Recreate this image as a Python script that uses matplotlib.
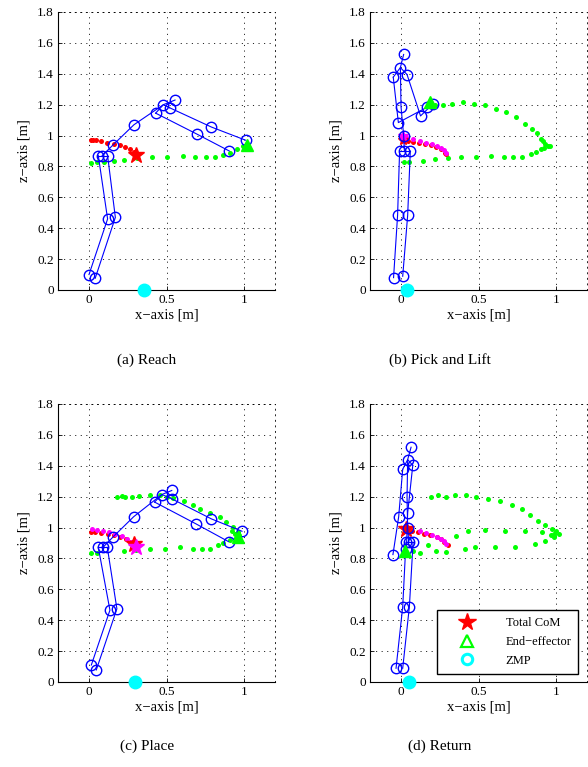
import numpy as np
import matplotlib
matplotlib.use("Agg")
from matplotlib import pyplot as plt
from matplotlib.lines import Line2D

plt.rcParams['font.family'] = ['Liberation Serif', 'DejaVu Serif']
plt.rcParams['lines.scale_dashes'] = False

# joint order: foot1, foot2, knee1, knee2, hip1, hip_mid, hip2, waist, chest,
# neck, head, shoulder1, shoulder2, elbow1, elbow2, hand1, hand2
chains = [[0, 2, 4], [1, 3, 6], [4, 5, 6], [5, 7, 8, 9, 10],
          [11, 9, 12], [11, 13, 15], [12, 14, 16]]

xticks = [0, 0.5, 1]
xtick_labels = ['0', '0.5', '1']
yticks = [0, 0.2, 0.4, 0.6, 0.8, 1.0, 1.2, 1.4, 1.6, 1.8]
ytick_labels = ['0', '0.2', '0.4', '0.6', '0.8', '1', '1.2', '1.4', '1.6', '1.8']
captions = ['(a) Reach', '(b) Pick and Lift', '(c) Place', '(d) Return']

# ---- (a) Reach
reach_body_x = [0.00, 0.04, 0.12, 0.17, 0.06, 0.085, 0.12, 0.156, 0.29, 0.48, 0.555,
                0.43, 0.52, 0.695, 0.79, 0.905, 1.01]
reach_body_z = [0.10, 0.076, 0.46, 0.47, 0.87, 0.87, 0.87, 0.94, 1.07, 1.20, 1.23,
                1.145, 1.18, 1.01, 1.055, 0.90, 0.97]
reach_ee_x = [0.01, 0.053, 0.096, 0.16, 0.224, 0.31, 0.406, 0.502, 0.605, 0.684, 0.754,
              0.812, 0.865, 0.908, 0.955, 0.994]
reach_ee_z = [0.825, 0.827, 0.827, 0.834, 0.842, 0.857, 0.86, 0.86, 0.868, 0.86, 0.86,
              0.86, 0.875, 0.89, 0.91, 0.93]
reach_com_x = [0.01, 0.025, 0.043, 0.075, 0.118, 0.16, 0.2, 0.235, 0.267, 0.29]
reach_com_z = [0.972, 0.974, 0.972, 0.965, 0.955, 0.946, 0.94, 0.929, 0.916, 0.896]
reach_upper_x = []
reach_upper_z = []
reach_star = (0.30, 0.875)
reach_upper_star = None
reach_tri = (1.02, 0.94)
reach_zmp = 0.357

# ---- (b) Pick and Lift
pick_body_x = [-0.048, 0.011, -0.022, 0.043, -0.009, 0.022, 0.06, 0.017, 0.0, -0.004, 0.017,
               -0.05, 0.039, -0.017, 0.126, 0.169, 0.206]
pick_body_z = [0.08, 0.089, 0.484, 0.484, 0.90, 0.90, 0.90, 1.0, 1.188, 1.44, 1.525,
               1.378, 1.395, 1.084, 1.127, 1.184, 1.205]
pick_ee_x = [0.02, 0.05, 0.14, 0.22, 0.30, 0.39, 0.487, 0.58, 0.665, 0.725, 0.78, 0.84,
             0.87, 0.90, 0.92, 0.95, 0.96, 0.93, 0.913, 0.90, 0.88, 0.846, 0.80, 0.745,
             0.68, 0.615, 0.54, 0.47, 0.40, 0.33, 0.27, 0.22]
pick_ee_z = [0.83, 0.83, 0.835, 0.848, 0.856, 0.864, 0.864, 0.87, 0.862, 0.864, 0.864, 0.88,
             0.894, 0.91, 0.92, 0.93, 0.935, 0.946, 0.963, 0.98, 1.015, 1.045, 1.078, 1.12,
             1.15, 1.175, 1.20, 1.206, 1.216, 1.206, 1.20, 1.195]
pick_com_x = [0.011, 0.043, 0.076, 0.113, 0.152, 0.195, 0.227, 0.26, 0.286, 0.29]
pick_com_z = [0.972, 0.965, 0.961, 0.955, 0.946, 0.937, 0.929, 0.911, 0.89, 0.88]
pick_upper_x = [0.0, 0.04, 0.08, 0.12, 0.16, 0.2, 0.235, 0.26, 0.28, 0.29]
pick_upper_z = [1.0, 0.985, 0.975, 0.967, 0.955, 0.945, 0.935, 0.92, 0.905, 0.89]
pick_star = (0.01, 0.972)
pick_upper_star = (0.01, 1.0)
pick_tri = (0.19, 1.22)
pick_zmp = 0.037

# ---- (c) Place
place_body_x = [0.015, 0.047, 0.135, 0.18, 0.06, 0.09, 0.118, 0.156, 0.288, 0.47, 0.534,
                0.423, 0.534, 0.69, 0.79, 0.90, 0.987]
place_body_z = [0.11, 0.078, 0.465, 0.474, 0.872, 0.872, 0.872, 0.94, 1.07, 1.214, 1.24,
                1.165, 1.186, 1.024, 1.056, 0.909, 0.976]
place_ee_x = [0.01, 0.053, 0.224, 0.30, 0.395, 0.49, 0.588, 0.673, 0.726, 0.78, 0.833,
              0.865, 0.908, 0.18, 0.214, 0.235, 0.278, 0.32, 0.395, 0.46, 0.502, 0.545,
              0.61, 0.673, 0.716, 0.78, 0.844, 0.887, 0.93, 0.96, 0.94, 0.97, 0.92, 0.95]
place_ee_z = [0.833, 0.833, 0.846, 0.855, 0.864, 0.864, 0.872, 0.864, 0.864, 0.864, 0.885,
              0.898, 0.92, 1.20, 1.203, 1.197, 1.20, 1.203, 1.212, 1.208, 1.197, 1.19,
              1.175, 1.143, 1.121, 1.093, 1.067, 1.035, 1.002, 0.97, 0.96, 0.95, 0.98, 0.935]
place_com_x = [0.01, 0.04, 0.08, 0.12, 0.16, 0.2, 0.24, 0.27, 0.29]
place_com_z = [0.97, 0.97, 0.965, 0.96, 0.95, 0.94, 0.925, 0.905, 0.89]
place_upper_x = [0.02, 0.05, 0.09, 0.13, 0.17, 0.21, 0.245, 0.27, 0.29]
place_upper_z = [0.99, 0.985, 0.98, 0.97, 0.96, 0.945, 0.925, 0.905, 0.89]
place_star = (0.29, 0.895)
place_upper_star = (0.30, 0.875)
place_tri = (0.96, 0.94)
place_zmp = 0.295

# ---- (d) Return
return_body_x = [-0.032, 0.011, 0.011, 0.054, 0.032, 0.05, 0.078, 0.043, 0.039, 0.043, 0.065,
                 0.011, 0.076, -0.015, 0.043, -0.052, 0.035]
return_body_z = [0.089, 0.089, 0.487, 0.487, 0.905, 0.905, 0.905, 1.0, 1.197, 1.44, 1.52,
                 1.377, 1.403, 1.07, 1.095, 0.825, 0.86]
return_ee_x = [0.195, 0.238, 0.292, 0.346, 0.422, 0.487, 0.563, 0.639, 0.714, 0.779, 0.833,
               0.887, 0.931, 0.974, 1.0, 1.017, 0.985, 0.91, 0.80, 0.67, 0.54, 0.43, 0.357,
               0.173, 0.076, 0.02, 0.12, 0.227, 0.292, 0.411, 0.476, 0.606, 0.736, 0.866,
               0.931, 0.985, 0.97, 0.99]
return_ee_z = [1.201, 1.208, 1.201, 1.208, 1.214, 1.201, 1.186, 1.171, 1.149, 1.121, 1.082,
               1.045, 1.019, 0.991, 0.975, 0.959, 0.96, 0.97, 0.976, 0.98, 0.985, 0.98, 0.948,
               0.89, 0.85, 0.829, 0.835, 0.85, 0.84, 0.861, 0.872, 0.872, 0.872, 0.894,
               0.916, 0.937, 0.95, 0.945]
return_com_x = [0.03, 0.07, 0.11, 0.15, 0.19, 0.23, 0.26, 0.28, 0.30]
return_com_z = [0.98, 0.975, 0.97, 0.96, 0.95, 0.94, 0.925, 0.905, 0.885]
return_upper_x = [0.12, 0.16, 0.2, 0.23, 0.26, 0.28, 0.29]
return_upper_z = [0.975, 0.965, 0.955, 0.94, 0.925, 0.91, 0.895]
return_star = (0.03, 0.99)
return_upper_star = None
return_tri = (0.026, 0.845)
return_zmp = 0.05

panels = [
    (reach_body_x, reach_body_z, reach_ee_x, reach_ee_z, reach_com_x, reach_com_z,
     reach_upper_x, reach_upper_z, reach_star, reach_upper_star, reach_tri, reach_zmp),
    (pick_body_x, pick_body_z, pick_ee_x, pick_ee_z, pick_com_x, pick_com_z,
     pick_upper_x, pick_upper_z, pick_star, pick_upper_star, pick_tri, pick_zmp),
    (place_body_x, place_body_z, place_ee_x, place_ee_z, place_com_x, place_com_z,
     place_upper_x, place_upper_z, place_star, place_upper_star, place_tri, place_zmp),
    (return_body_x, return_body_z, return_ee_x, return_ee_z, return_com_x, return_com_z,
     return_upper_x, return_upper_z, return_star, return_upper_star, return_tri, return_zmp),
]

# axes positions in pixels (left, top), then turned into figure fraction
W, H = 588, 767
boxes = [(58, 12), (370, 12), (58, 404), (370, 404)]
caption_pos = [(147, 360), (440, 360), (147, 746), (440, 746)]
ax_w, ax_h = 217, 278

fig = plt.figure(figsize=(W / 100, H / 100), dpi=100)
dot = (0, (0.8, 3.2))

for i, p in enumerate(panels):
    (bx, bz, ex, ez, cx, cz, ux, uz, star, ustar, tri, zmp) = p
    left, top = boxes[i]
    ax = fig.add_axes([left / W, 1 - (top + ax_h) / H, ax_w / W, ax_h / H])

    ax.plot(ex, ez, 'o', color=(0, 1, 0), ms=3.6, mec='none')
    ax.plot(cx, cz, 'o', color='red', ms=3.6, mec='none')
    if ux:
        ax.plot(ux, uz, 'o', color='magenta', ms=3.6, mec='none')
    ax.plot(star[0], star[1], '*', color='red', ms=12 if i != 1 else 8, mec='red')
    if ustar is not None:
        ax.plot(ustar[0], ustar[1], '*', color='magenta', ms=12 if i != 1 else 8, mec='magenta')

    bx = np.array(bx)
    bz = np.array(bz)
    for ch in chains:
        ax.plot(bx[ch], bz[ch], '-', color='blue', lw=0.8)
    ax.plot(bx, bz, 'o', mfc='none', mec='blue', ms=7.5, mew=1.0)

    ax.plot(tri[0], tri[1], '^', color=(0, 1, 0), ms=8, mec=(0, 1, 0))
    ax.plot(zmp, 0, 'o', color=(0, 1, 1), ms=9, mec=(0, 1, 1), clip_on=False, zorder=5)

    ax.set_xlim(-0.2, 1.2)
    ax.set_ylim(0, 1.8)
    ax.set_xticks(xticks)
    ax.set_xticklabels(xtick_labels)
    ax.set_yticks(yticks)
    ax.set_yticklabels(ytick_labels)
    ax.tick_params(direction='in', length=3, width=0.6, labelsize=9.5, pad=3)
    ax.grid(True, color='black', linestyle=dot, linewidth=0.6)
    for s in ['top', 'right']:
        ax.spines[s].set_linestyle(dot)
        ax.spines[s].set_linewidth(0.6)
    for s in ['left', 'bottom']:
        ax.spines[s].set_linewidth(0.8)
    ax.set_xlabel('x\u2212axis [m]', fontsize=10.5, labelpad=2)
    ax.set_ylabel('z\u2212axis [m]', fontsize=10.5, labelpad=5)

    cxp, cyp = caption_pos[i]
    fig.text(cxp / W, 1 - cyp / H, captions[i], ha='center', va='center', fontsize=11)

    if i == 3:
        handles = [
            Line2D([], [], ls='none', marker='*', color='red', ms=13),
            Line2D([], [], ls='none', marker='^', mfc='none', mec=(0, 1, 0), mew=1.6, ms=8),
            Line2D([], [], ls='none', marker='o', mfc='none', mec=(0, 1, 1), mew=2.2, ms=7.5),
        ]
        leg = ax.legend(handles, ['Total CoM', 'End\u2212effector', 'ZMP'],
                        loc='lower right', bbox_to_anchor=(0.96, 0.03),
                        fontsize=9, fancybox=False, framealpha=1,
                        edgecolor='black', borderpad=0.55, labelspacing=0.55,
                        handlelength=3.6, handletextpad=1.3, borderaxespad=0)
        leg.get_frame().set_linewidth(1.0)

fig.savefig('out.png', dpi=100)
